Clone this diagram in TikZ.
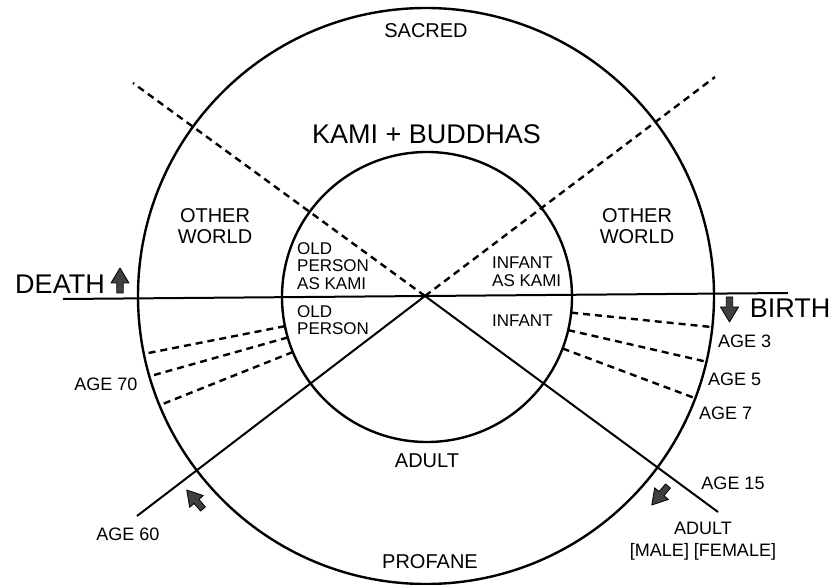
\documentclass[tikz,border=0pt]{standalone}
\usepackage{fontspec}
\setmainfont{Liberation Sans}
\usetikzlibrary{calc}
\begin{document}
\begin{tikzpicture}[x=1pt,y=-1pt,
  ring/.style={line width=2.4pt},
  axis/.style={line width=2pt},
  dashline/.style={line width=2.4pt, dash pattern=on 7pt off 5pt},
  fatarr/.pic={\filldraw[fill=black!75, draw=black, line width=0.8pt, line join=round]
     (0,-3.2) -- (10,-3.2) -- (10,-9) -- (25,0) -- (10,9) -- (10,3.2) -- (0,3.2) -- cycle;},
  lbl/.style={inner sep=0pt, font=\fontsize{20}{21}\selectfont, align=center},
  big/.style={inner sep=0pt, font=\fontsize{27}{28}\selectfont},
  small/.style={inner sep=0pt, font=\fontsize{18}{22}\selectfont, align=center},
  inner/.style={inner sep=0pt, font=\fontsize{17}{17.5}\selectfont, align=left, anchor=north west}]
\useasboundingbox (0,0) rectangle (833,585);
\fill[white] (0,0) rectangle (833,585);
% key points
\coordinate (C1) at (426,296);
\coordinate (C2) at (427,297);
\coordinate (X) at (425,296);
\coordinate (HL) at (63,299);
\coordinate (HR) at (788,293);
\coordinate (DUL) at (133,83);
\coordinate (DUR) at (715,77);
\coordinate (SLL) at (137,516);
\coordinate (SLR) at (718,512);
% circles
\draw[ring] (C1) circle (288);
\draw[ring] (C2) circle (145);
% axes
\draw[axis] (HL) -- (HR);
\draw[axis] (X) -- (SLL);
\draw[axis] (X) -- (SLR);
\draw[dashline] (X) -- (DUL);
\draw[dashline] (X) -- (DUR);
% age dashes
\foreach \a/\n in {168.4/l1,163.8/l2,157.7/l3,6.2/r1,13.2/r2,20.8/r3}{
  \coordinate (o\n) at ($(C1)+(\a:288)$);
  \coordinate (i\n) at ($(C2)+(\a:145)$);
  \draw[dashline] (i\n) -- (o\n);
}
% arrows
\pic[rotate=90] at (120,293) {fatarr};
\pic[rotate=-90] at (729.5,297) {fatarr};
\pic[rotate=130.6] at (203,509) {fatarr};
\pic[rotate=-130.4] at (668,486) {fatarr};
% labels
\node[lbl] (sacred) at (426,31) {SACRED};
\node[inner sep=0pt, font=\fontsize{27}{28}\selectfont] (kami) at (426.5,134) {KAMI + BUDDHAS};
\node[lbl] (owl) at (215,226) {OTHER\\WORLD};
\node[lbl] (owr) at (637,226) {OTHER\\WORLD};
\node[inner] (opk) at (297,242) {OLD\\PERSON\\AS KAMI};
\node[inner] (iak) at (492,257) {INFANT\\AS KAMI};
\node[inner] (op) at (297,305) {OLD\\PERSON};
\node[inner] (inf) at (492,315) {INFANT};
\node[lbl] (adult) at (427,461) {ADULT};
\node[lbl] (profane) at (430,562) {PROFANE};
\node[big] (death) at (60,284) {DEATH};
\node[big] (birth) at (790,308) {BIRTH};
\node[small, anchor=north west] (a3) at (718,335) {AGE 3};
\node[small, anchor=north west] (a5) at (708,373) {AGE 5};
\node[small, anchor=north west] (a7) at (699,407) {AGE 7};
\node[small] (a70) at (106,384) {AGE 70};
\node[small] (a15) at (733,483) {AGE 15};
\node[small] (a60) at (128,534) {AGE 60};
\node[small, anchor=north] (amf) at (703,522) {ADULT\\{[MALE] [FEMALE]}};
\end{tikzpicture}
\end{document}
